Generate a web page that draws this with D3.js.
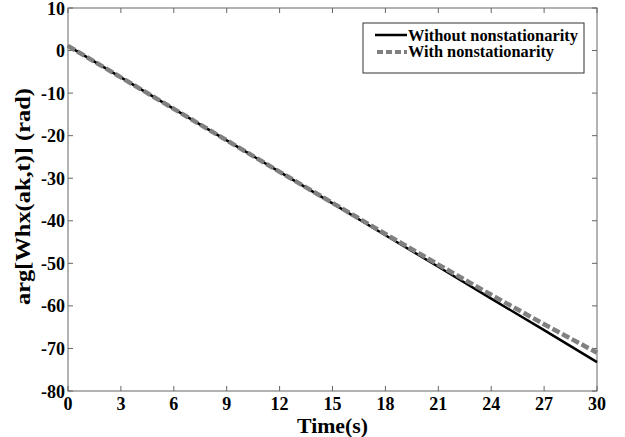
<!DOCTYPE html>
<html><head><meta charset="utf-8">
<script src="https://cdn.jsdelivr.net/npm/d3@7"></script>
<style>body{margin:0;background:#fff}svg{display:block}text{font-family:"Liberation Serif","Times New Roman",serif;font-weight:bold}</style>
</head><body>
<svg id="c" width="625" height="437"></svg>
<script>
const time = [0, 3, 6, 9, 12, 15, 18, 21, 24, 27, 30];
const withoutNonstat = [1.1, -6.3, -13.7, -21.1, -28.5, -35.9, -43.4, -50.8, -58.3, -65.7, -73.2];
const withNonstat = [1.1, -6.3, -13.7, -21.1, -28.5, -35.8, -43.1, -50.3, -57.4, -64.3, -71.0];
const xTicks = [0, 3, 6, 9, 12, 15, 18, 21, 24, 27, 30];
const yTicks = [10, 0, -10, -20, -30, -40, -50, -60, -70, -80];
const seriesNames = ["Without nonstationarity", "With nonstationarity"];

const svg = d3.select("#c");
const L = 68, R = 597, T = 8, B = 391;
const x = d3.scaleLinear().domain([0, 30]).range([L, R]);
const y = d3.scaleLinear().domain([-80, 10]).range([B, T]);

svg.append("rect").attr("x", L).attr("y", T).attr("width", R - L).attr("height", B - T)
  .attr("fill", "none").attr("stroke", "#666").attr("stroke-width", 1);

const tl = 5;
const gx = svg.append("g");
xTicks.forEach(t => {
  gx.append("line").attr("x1", x(t)).attr("x2", x(t)).attr("y1", B).attr("y2", B - tl).attr("stroke", "#666");
  gx.append("line").attr("x1", x(t)).attr("x2", x(t)).attr("y1", T).attr("y2", T + tl).attr("stroke", "#666");
  gx.append("text").attr("x", x(t)).attr("y", B + 19).attr("text-anchor", "middle")
    .attr("font-size", 18).text(t);
});
yTicks.forEach(t => {
  gx.append("line").attr("x1", L).attr("x2", L + tl).attr("y1", y(t)).attr("y2", y(t)).attr("stroke", "#666");
  gx.append("line").attr("x1", R).attr("x2", R - tl).attr("y1", y(t)).attr("y2", y(t)).attr("stroke", "#666");
  gx.append("text").attr("x", L - 3).attr("y", y(t) + 6.5).attr("text-anchor", "end")
    .attr("font-size", 18).text(t);
});

svg.append("text").attr("x", (L + R) / 2).attr("y", 433).attr("text-anchor", "middle")
  .attr("font-size", 20).attr("textLength", 71).attr("lengthAdjust", "spacingAndGlyphs").text("Time(s)");
svg.append("text").attr("transform", `translate(30,196.5) rotate(-90)`)
  .attr("text-anchor", "middle").attr("font-size", 20)
  .attr("textLength", 217).attr("lengthAdjust", "spacingAndGlyphs").text("arg[Whx(ak,t)] (rad)");

const line = d3.line().x((d, i) => x(time[i])).y(d => y(d));
svg.append("path").datum(withoutNonstat).attr("d", line).attr("fill", "none")
  .attr("stroke", "#000").attr("stroke-width", 2.5);
svg.append("path").datum(withNonstat).attr("d", line).attr("fill", "none")
  .attr("stroke", "#808080").attr("stroke-width", 4.5).attr("stroke-dasharray", "8,3");

const lg = svg.append("g");
lg.append("rect").attr("x", 363).attr("y", 23).attr("width", 221).attr("height", 50)
  .attr("fill", "#fff").attr("stroke", "#333").attr("stroke-width", 1);
lg.append("line").attr("x1", 375).attr("x2", 407).attr("y1", 35).attr("y2", 35)
  .attr("stroke", "#000").attr("stroke-width", 2.5);
lg.append("line").attr("x1", 377).attr("x2", 407).attr("y1", 52).attr("y2", 52)
  .attr("stroke", "#808080").attr("stroke-width", 4).attr("stroke-dasharray", "6,3");
lg.append("text").attr("x", 408).attr("y", 41).attr("font-size", 16)
  .attr("textLength", 170).attr("lengthAdjust", "spacingAndGlyphs").text(seriesNames[0]);
lg.append("text").attr("x", 408).attr("y", 57).attr("font-size", 16)
  .attr("textLength", 146).attr("lengthAdjust", "spacingAndGlyphs").text(seriesNames[1]);
</script>
</body></html>
